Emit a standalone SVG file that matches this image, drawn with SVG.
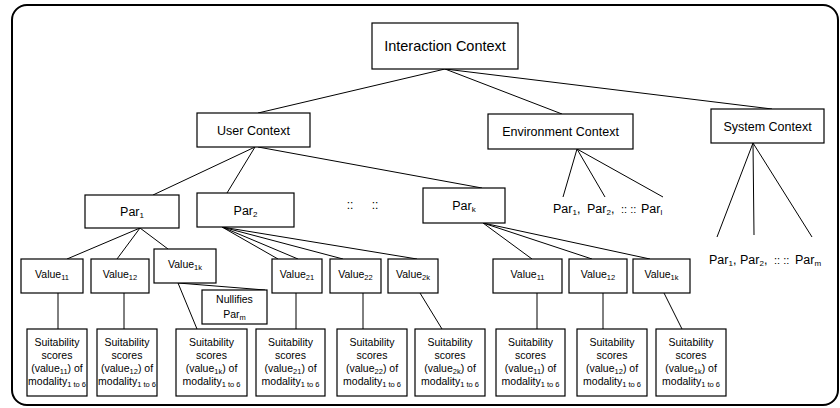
<svg xmlns="http://www.w3.org/2000/svg" width="840" height="408" viewBox="0 0 840 408">
<style>
.box{fill:#fff;stroke:#000;stroke-width:1.2}
.ln{stroke:#000;stroke-width:1;fill:none}
.t{font-family:"Liberation Sans",Arial,sans-serif;fill:#000;text-anchor:middle}
.big{font-size:14.5px}
.mid{font-size:12.5px}
.sm{font-size:10.5px}
.sub{font-size:7.5px}
.subm{font-size:8px}
</style>
<rect x="0" y="0" width="840" height="408" fill="#fff"/>
<rect x="12" y="5" width="826" height="400" rx="15" fill="none" stroke="#000" stroke-width="2"/>
<g id="connectors">
<line class="ln" x1="445" y1="69" x2="258" y2="113"/>
<line class="ln" x1="445" y1="69" x2="562" y2="114"/>
<line class="ln" x1="445" y1="69" x2="772" y2="109"/>
<line class="ln" x1="255" y1="147" x2="153" y2="195"/>
<line class="ln" x1="255" y1="147" x2="227" y2="193"/>
<line class="ln" x1="258" y1="147" x2="482" y2="188"/>
<line class="ln" x1="577" y1="149" x2="563" y2="197"/>
<line class="ln" x1="577" y1="149" x2="605" y2="197"/>
<line class="ln" x1="577" y1="149" x2="663" y2="197"/>
<line class="ln" x1="753" y1="143" x2="717" y2="237"/>
<line class="ln" x1="753" y1="143" x2="754" y2="235"/>
<line class="ln" x1="753" y1="143" x2="812" y2="237"/>
<line class="ln" x1="140" y1="228" x2="67" y2="259"/>
<line class="ln" x1="140" y1="228" x2="117" y2="259"/>
<line class="ln" x1="140" y1="228" x2="168" y2="249"/>
<line class="ln" x1="222" y1="227" x2="278" y2="259"/>
<line class="ln" x1="222" y1="227" x2="298" y2="259"/>
<line class="ln" x1="222" y1="227" x2="343" y2="259"/>
<line class="ln" x1="222" y1="227" x2="417" y2="259"/>
<line class="ln" x1="483" y1="223" x2="532" y2="259"/>
<line class="ln" x1="483" y1="223" x2="592" y2="259"/>
<line class="ln" x1="483" y1="223" x2="650" y2="259"/>
<line class="ln" x1="58" y1="293" x2="58" y2="329"/>
<line class="ln" x1="124" y1="293" x2="124" y2="329"/>
<line class="ln" x1="296" y1="293" x2="296" y2="329"/>
<line class="ln" x1="363" y1="293" x2="363" y2="329"/>
<line class="ln" x1="537" y1="293" x2="537" y2="329"/>
<line class="ln" x1="603" y1="293" x2="603" y2="329"/>
<line class="ln" x1="178" y1="283" x2="197" y2="329"/>
<line class="ln" x1="420" y1="293" x2="442" y2="329"/>
<line class="ln" x1="664" y1="293" x2="682" y2="329"/>
<line class="ln" x1="178" y1="283" x2="265" y2="290"/>
</g>
<g id="interaction"><rect class="box" x="372" y="23" width="146" height="46"/><text class="t big" x="445" y="51">Interaction Context</text></g>
<g id="user"><rect class="box" x="197" y="113" width="113" height="34"/><text class="t mid" x="253.5" y="134.5">User Context</text></g>
<g id="environment"><rect class="box" x="488" y="114" width="145" height="35"/><text class="t mid" x="560.5" y="136">Environment Context</text></g>
<g id="system"><rect class="box" x="711" y="109" width="113" height="34"/><text class="t mid" x="767.5" y="130.5">System Context</text></g>
<g id="par1"><rect class="box" x="85" y="195" width="94" height="33"/><text class="t mid" x="132" y="216">Par<tspan class="subm" dy="2">1</tspan></text></g>
<g id="par2"><rect class="box" x="197" y="193" width="97" height="34"/><text class="t mid" x="245.5" y="215">Par<tspan class="subm" dy="2">2</tspan></text></g>
<g id="dots"><text class="t" font-size="12" x="350" y="209">::</text><text class="t" font-size="12" x="375" y="209">::</text></g>
<g id="park"><rect class="box" x="423" y="188" width="82" height="35"/><text class="t mid" x="464" y="210">Par<tspan class="subm" dy="2">k</tspan></text></g>
<g id="env-pars"><text class="t mid" style="text-anchor:start" y="213"><tspan x="553">Par</tspan><tspan class="subm" dy="2">1</tspan><tspan dy="-2">,</tspan><tspan x="587">Par</tspan><tspan class="subm" dy="2">2</tspan><tspan dy="-2">,</tspan><tspan x="621" font-size="11">:: ::</tspan><tspan x="641">Par</tspan><tspan class="subm" dy="2">l</tspan></text></g>
<g id="sys-pars"><text class="t mid" style="text-anchor:start" y="264"><tspan x="709">Par</tspan><tspan class="subm" dy="2">1</tspan><tspan dy="-2">,</tspan><tspan x="740">Par</tspan><tspan class="subm" dy="2">2</tspan><tspan dy="-2">,</tspan><tspan x="774" font-size="11">:: ::</tspan><tspan x="795">Par</tspan><tspan class="subm" dy="2">m</tspan></text></g>
<g id="v11"><rect class="box" x="21" y="259" width="62" height="34"/><text class="t sm" x="52" y="278">Value<tspan class="sub" dy="2">11</tspan></text></g>
<g id="v12"><rect class="box" x="91" y="259" width="58" height="34"/><text class="t sm" x="120" y="278">Value<tspan class="sub" dy="2">12</tspan></text></g>
<g id="v1k"><rect class="box" x="154" y="249" width="62" height="34"/><text class="t sm" x="185" y="268">Value<tspan class="sub" dy="2">1k</tspan></text></g>
<g id="nullifies"><rect class="box" x="202" y="290" width="65" height="34"/><text class="t sm" x="234.5" y="302.5">Nullifies</text><text class="t sm" x="234.5" y="318">Par<tspan class="sub" dy="2">m</tspan></text></g>
<g id="v21"><rect class="box" x="272" y="259" width="50" height="34"/><text class="t sm" x="297" y="278">Value<tspan class="sub" dy="2">21</tspan></text></g>
<g id="v22"><rect class="box" x="330" y="259" width="51" height="34"/><text class="t sm" x="355.5" y="278">Value<tspan class="sub" dy="2">22</tspan></text></g>
<g id="v2k"><rect class="box" x="388" y="259" width="50" height="34"/><text class="t sm" x="413" y="278">Value<tspan class="sub" dy="2">2k</tspan></text></g>
<g id="rv11"><rect class="box" x="493" y="259" width="69" height="34"/><text class="t sm" x="527.5" y="278">Value<tspan class="sub" dy="2">11</tspan></text></g>
<g id="rv12"><rect class="box" x="569" y="259" width="58" height="34"/><text class="t sm" x="598" y="278">Value<tspan class="sub" dy="2">12</tspan></text></g>
<g id="rv1k"><rect class="box" x="633" y="259" width="57" height="34"/><text class="t sm" x="661.5" y="278">Value<tspan class="sub" dy="2">1k</tspan></text></g>
<g id="s1"><rect class="box" x="27" y="329" width="60" height="67"/><text class="t sm" x="57"><tspan x="57" y="345.5">Suitability</tspan><tspan x="57" y="358.5">scores</tspan><tspan x="57" y="371.5">(value</tspan><tspan class="sub" dy="2">11</tspan><tspan dy="-2">) of</tspan><tspan x="57" y="384.5">modality</tspan><tspan class="sub" dy="2">1 to 6</tspan></text></g>
<g id="s2"><rect class="box" x="97" y="329" width="60" height="67"/><text class="t sm" x="127"><tspan x="127" y="345.5">Suitability</tspan><tspan x="127" y="358.5">scores</tspan><tspan x="127" y="371.5">(value</tspan><tspan class="sub" dy="2">12</tspan><tspan dy="-2">) of</tspan><tspan x="127" y="384.5">modality</tspan><tspan class="sub" dy="2">1 to 6</tspan></text></g>
<g id="s3"><rect class="box" x="176" y="329" width="71" height="67"/><text class="t sm" x="211.5"><tspan x="211.5" y="345.5">Suitability</tspan><tspan x="211.5" y="358.5">scores</tspan><tspan x="211.5" y="371.5">(value</tspan><tspan class="sub" dy="2">1k</tspan><tspan dy="-2">) of</tspan><tspan x="211.5" y="384.5">modality</tspan><tspan class="sub" dy="2">1 to 6</tspan></text></g>
<g id="s4"><rect class="box" x="256" y="329" width="69" height="67"/><text class="t sm" x="290.5"><tspan x="290.5" y="345.5">Suitability</tspan><tspan x="290.5" y="358.5">scores</tspan><tspan x="290.5" y="371.5">(value</tspan><tspan class="sub" dy="2">21</tspan><tspan dy="-2">) of</tspan><tspan x="290.5" y="384.5">modality</tspan><tspan class="sub" dy="2">1 to 6</tspan></text></g>
<g id="s5"><rect class="box" x="337" y="329" width="70" height="67"/><text class="t sm" x="372"><tspan x="372" y="345.5">Suitability</tspan><tspan x="372" y="358.5">scores</tspan><tspan x="372" y="371.5">(value</tspan><tspan class="sub" dy="2">22</tspan><tspan dy="-2">) of</tspan><tspan x="372" y="384.5">modality</tspan><tspan class="sub" dy="2">1 to 6</tspan></text></g>
<g id="s6"><rect class="box" x="415" y="329" width="70" height="67"/><text class="t sm" x="450"><tspan x="450" y="345.5">Suitability</tspan><tspan x="450" y="358.5">scores</tspan><tspan x="450" y="371.5">(value</tspan><tspan class="sub" dy="2">2k</tspan><tspan dy="-2">) of</tspan><tspan x="450" y="384.5">modality</tspan><tspan class="sub" dy="2">1 to 6</tspan></text></g>
<g id="s7"><rect class="box" x="496" y="329" width="69" height="67"/><text class="t sm" x="530.5"><tspan x="530.5" y="345.5">Suitability</tspan><tspan x="530.5" y="358.5">scores</tspan><tspan x="530.5" y="371.5">(value</tspan><tspan class="sub" dy="2">11</tspan><tspan dy="-2">) of</tspan><tspan x="530.5" y="384.5">modality</tspan><tspan class="sub" dy="2">1 to 6</tspan></text></g>
<g id="s8"><rect class="box" x="577" y="329" width="70" height="67"/><text class="t sm" x="612"><tspan x="612" y="345.5">Suitability</tspan><tspan x="612" y="358.5">scores</tspan><tspan x="612" y="371.5">(value</tspan><tspan class="sub" dy="2">12</tspan><tspan dy="-2">) of</tspan><tspan x="612" y="384.5">modality</tspan><tspan class="sub" dy="2">1 to 6</tspan></text></g>
<g id="s9"><rect class="box" x="656" y="329" width="70" height="67"/><text class="t sm" x="691"><tspan x="691" y="345.5">Suitability</tspan><tspan x="691" y="358.5">scores</tspan><tspan x="691" y="371.5">(value</tspan><tspan class="sub" dy="2">1k</tspan><tspan dy="-2">) of</tspan><tspan x="691" y="384.5">modality</tspan><tspan class="sub" dy="2">1 to 6</tspan></text></g>
</svg>
